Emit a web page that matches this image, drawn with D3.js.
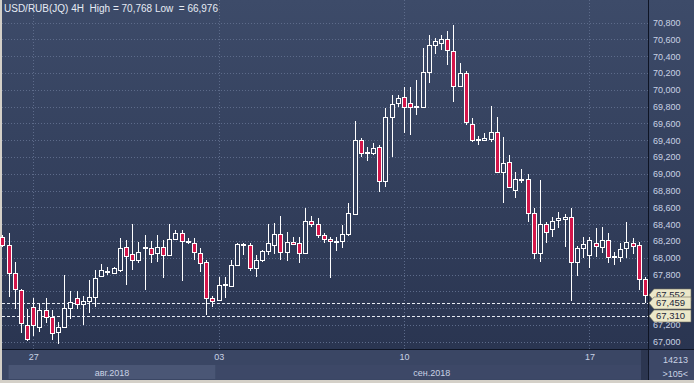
<!DOCTYPE html>
<html><head><meta charset="utf-8">
<script src="https://cdn.jsdelivr.net/npm/d3@7"></script>
<style>
html,body{margin:0;padding:0;background:#d4d0c8;}
svg{display:block;font-family:"Liberation Sans",Arial,sans-serif;}
</style></head><body>
<script>
// 4H candles, 24 Aug - 18 Sep 2018
const openP = [68.245,68.154,67.817,67.618,67.201,67.419,67.181,67.380,67.293,67.118,
  67.174,67.400,67.526,67.451,67.479,67.531,67.785,67.826,67.817,67.856,
  68.126,68.043,67.975,68.114,68.114,68.055,68.133,68.035,68.221,68.293,
  68.186,68.181,68.062,67.951,67.519,67.499,67.671,67.665,67.915,68.157,
  68.154,67.883,67.975,68.082,68.154,68.285,68.067,68.186,68.174,68.055,
  68.443,68.400,68.269,68.219,68.195,68.195,68.281,68.523,69.404,69.251,
  69.252,69.317,68.910,69.674,69.840,69.912,69.840,69.796,69.800,70.210,
  70.535,70.562,70.602,70.467,70.050,70.198,69.594,69.406,69.404,69.412,
  69.495,69.026,69.138,68.808,68.936,68.936,68.531,68.055,68.400,68.340,
  68.451,68.467,68.483,67.955,68.114,68.035,68.174,68.133,68.213,68.014,
  68.007,68.114,68.181,68.148,67.743];
const highP = [68.273,68.300,67.955,67.626,67.388,67.519,67.451,67.519,67.380,67.240,
  67.793,67.606,67.598,67.546,67.737,67.856,67.924,67.888,67.895,68.233,
  68.213,68.404,68.193,68.273,68.205,68.273,68.213,68.404,68.332,68.332,
  68.233,68.233,68.114,67.975,67.546,67.776,67.773,67.975,68.174,68.181,
  68.174,68.035,68.094,68.404,68.412,68.499,68.312,68.245,68.252,68.590,
  68.499,68.471,68.293,68.252,68.252,68.392,68.650,69.630,69.424,69.317,
  69.371,69.344,69.781,69.939,69.939,70.038,70.038,70.118,70.495,70.654,
  70.614,70.654,70.700,70.768,70.317,70.229,69.665,69.448,69.483,69.808,
  69.674,69.436,69.225,69.026,69.055,68.999,68.590,68.927,68.431,68.483,
  68.543,68.523,68.590,68.142,68.252,68.245,68.352,68.364,68.293,68.074,
  68.174,68.431,68.233,68.193,67.776];
const lowP = [68.130,67.531,67.392,67.102,67.005,67.062,67.121,67.221,67.023,66.976,
  67.162,67.269,67.388,67.201,67.340,67.412,67.775,67.793,67.808,67.836,
  67.677,67.856,67.936,67.610,67.943,67.955,67.757,68.023,68.213,67.729,
  68.165,67.975,67.836,67.320,67.412,67.479,67.523,67.650,67.904,68.035,
  67.844,67.776,67.955,68.035,68.043,67.975,67.963,68.154,67.936,68.046,
  68.371,68.233,68.181,67.757,68.082,68.114,68.261,68.511,69.205,69.157,
  69.221,68.788,68.838,69.205,69.793,69.483,69.463,69.701,69.793,70.079,
  70.427,70.475,70.296,69.860,70.031,69.582,69.383,69.338,69.395,69.383,
  69.007,68.650,68.829,68.710,68.895,68.431,67.983,67.955,68.174,68.245,
  68.352,68.133,67.479,67.785,67.995,67.876,68.014,68.055,67.943,67.915,
  67.955,67.995,68.046,67.612,67.460];
const closeP = [68.154,67.817,67.626,67.221,67.031,67.201,67.380,67.293,67.102,67.174,
  67.400,67.471,67.451,67.490,67.531,67.764,67.856,67.838,67.876,68.114,
  68.026,67.975,68.074,68.133,68.046,68.133,68.035,68.221,68.293,68.205,
  68.201,68.074,67.936,67.519,67.479,67.677,67.689,67.915,68.162,68.165,
  67.883,67.975,68.082,68.181,68.285,68.067,68.186,68.162,68.055,68.443,
  68.404,68.273,68.221,68.198,68.201,68.281,68.531,69.404,69.245,69.257,
  69.305,68.910,69.674,69.829,69.900,69.793,69.793,69.805,70.210,70.535,
  70.586,70.602,70.475,70.050,70.198,69.612,69.404,69.412,69.421,69.495,
  69.026,69.126,68.848,68.939,68.942,68.531,68.055,68.400,68.305,68.439,
  68.479,68.490,67.955,68.114,68.165,68.213,68.138,68.213,68.014,68.019,
  68.106,68.193,68.138,67.743,67.552];

const dayTicks = [5, 35, 65, 95];          // candle index of Monday 00:00
const dayLabels = ["27", "03", "10", "17"];
const monthLabels = ["авг.2018", "сен.2018"];
const monthFrom = [1, 34.5];               // band edges in candle index
const monthTo = [34.5, 104.5];
const levels = [67.459, 67.310];           // dashed lines
const tagValues = [67.552, 67.459, 67.310];
const title = "USD/RUB(JQ) 4H  High = 70,768 Low  = 66,976";

const W = 694, H = 383;
const plotR = 648, plotB = 349, panelB = 380;
const fmt = v => d3.format(".3f")(v).replace(".", ",");

const x = d3.scaleLinear().domain([0, 104]).range([2.4, 645.0]);
const y = d3.scaleLinear().domain([67.0, 70.8]).range([341.7, 22.7]);
const yTicks = d3.range(67.0, 70.801, 0.2);
// axis labels that sit fully under the price tags are not drawn
const yLabels = yTicks.filter(t => !tagValues.some(v => Math.abs(y(t) - y(v)) < 7));

const svg = d3.select("body").append("svg").attr("width", W).attr("height", H);

const defs = svg.append("defs");
const g = defs.append("linearGradient").attr("id", "bg")
  .attr("gradientUnits", "userSpaceOnUse")
  .attr("x1", 0).attr("y1", 0).attr("x2", 0).attr("y2", plotB);
g.append("stop").attr("offset", 0).attr("stop-color", "#3d4b69");
g.append("stop").attr("offset", 1).attr("stop-color", "#2a3551");

// frame + panels
svg.append("rect").attr("width", W).attr("height", H).attr("fill", "#d4d0c8");
svg.append("rect").attr("x", 2).attr("y", 0).attr("width", W - 2).attr("height", plotB).attr("fill", "url(#bg)");
svg.append("rect").attr("x", 2).attr("y", plotB).attr("width", W - 2).attr("height", panelB - plotB).attr("fill", "#3a4664");

// grid
svg.append("g").selectAll("line").data(yTicks).join("line")
  .attr("x1", 2).attr("x2", plotR)
  .attr("y1", d => Math.round(y(d)) + 0.5).attr("y2", d => Math.round(y(d)) + 0.5)
  .attr("stroke", "#5d6b8a").attr("stroke-dasharray", "1,2");
svg.append("g").selectAll("line").data(dayTicks).join("line")
  .attr("x1", d => Math.round(x(d)) + 0.5).attr("x2", d => Math.round(x(d)) + 0.5)
  .attr("y1", 0).attr("y2", plotB)
  .attr("stroke", "#5d6b8a").attr("stroke-dasharray", "1,2");

// dashed price levels
svg.append("g").selectAll("line").data(levels).join("line")
  .attr("x1", 2).attr("x2", plotR)
  .attr("y1", d => Math.round(y(d)) + 0.5).attr("y2", d => Math.round(y(d)) + 0.5)
  .attr("stroke", "#e8ecf4").attr("stroke-dasharray", "3,2");

// candles
const idx = d3.range(openP.length);
const cx = i => Math.round(x(i)) + 0.5;
const candles = svg.append("g");
candles.selectAll("line").data(idx).join("line")
  .attr("x1", cx).attr("x2", cx)
  .attr("y1", i => Math.round(y(highP[i]))).attr("y2", i => Math.round(y(lowP[i])))
  .attr("stroke", "#ffffff");
candles.selectAll("rect").data(idx).join("rect")
  .attr("x", i => cx(i) - 2)
  .attr("width", 4)
  .attr("y", i => Math.round(y(Math.max(openP[i], closeP[i]))) + 0.5)
  .attr("height", i => Math.max(1, Math.round(y(Math.min(openP[i], closeP[i]))) - Math.round(y(Math.max(openP[i], closeP[i])))))
  .attr("fill", i => closeP[i] < openP[i] ? "#d3164a" : "url(#bg)")
  .attr("stroke", "#ffffff");

// right axis panel
svg.append("rect").attr("x", plotR).attr("y", 0).attr("width", W - plotR).attr("height", plotB).attr("fill", "url(#bg)");
svg.append("line").attr("x1", plotR + 0.5).attr("x2", plotR + 0.5).attr("y1", 0).attr("y2", panelB).attr("stroke", "#0e1424");
svg.append("line").attr("x1", 2).attr("x2", W).attr("y1", plotB + 0.5).attr("y2", plotB + 0.5).attr("stroke", "#0e1424");

const yAxis = d3.axisRight(y).tickValues(yLabels).tickFormat(fmt).tickSize(0).tickPadding(5);
svg.append("g").attr("transform", `translate(${plotR},0)`).call(yAxis)
  .call(a => a.select(".domain").remove())
  .call(a => a.selectAll("text").attr("fill", "#c9d2e4").attr("font-size", 9).attr("font-family", "Liberation Sans, Arial"));

// price tags (the first one sits partly under the second, as in the terminal)
const tags = svg.append("g").selectAll("g").data(tagValues).join("g")
  .attr("transform", d => `translate(${plotR + 1},${Math.round(y(d))})`);
tags.append("path").attr("d", "M0,0 L5,-6 L42,-6 L42,6 L5,6 Z")
  .attr("fill", "#ebe7c9").attr("stroke", "#6f6d5c").attr("stroke-width", 0.6);
tags.append("text").attr("x", 7).attr("dy", "0.35em").text(fmt)
  .attr("fill", "#1d2638").attr("font-size", 9.5);

// bottom axis: month bands and day labels
const bands = svg.append("g");
bands.selectAll("rect").data(monthLabels).join("rect")
  .attr("x", (d, i) => x(monthFrom[i])).attr("width", (d, i) => x(monthTo[i]) - x(monthFrom[i]))
  .attr("y", 365).attr("height", 14)
  .attr("fill", (d, i) => i === 0 ? "#4a5675" : "#3d4867");
bands.selectAll("text").data(monthLabels).join("text")
  .attr("x", (d, i) => (x(monthFrom[i]) + x(monthTo[i])) / 2).attr("y", 375.5)
  .attr("text-anchor", "middle").attr("fill", "#c9d2e4").attr("font-size", 9).text(d => d);

const xAxis = d3.axisBottom(x).tickValues(dayTicks).tickFormat((d, i) => dayLabels[i]).tickSize(0).tickPadding(5);
svg.append("g").attr("transform", `translate(0,${plotB})`).call(xAxis)
  .call(a => a.select(".domain").remove())
  .call(a => a.selectAll("text").attr("fill", "#c9d2e4").attr("font-size", 9).attr("font-family", "Liberation Sans, Arial"));

// corner box
svg.append("rect").attr("x", plotR + 1).attr("y", plotB + 1).attr("width", W - plotR - 1).attr("height", panelB - plotB - 1).attr("fill", "#3d4867");
svg.append("rect").attr("x", plotR - 7).attr("y", plotB + 1).attr("width", 7).attr("height", panelB - plotB - 1).attr("fill", "#2c3650");
svg.append("text").attr("x", 688).attr("y", 363).attr("text-anchor", "end").attr("fill", "#c9d2e4").attr("font-size", 9).text("14213");
svg.append("text").attr("x", 688).attr("y", 377).attr("text-anchor", "end").attr("fill", "#c9d2e4").attr("font-size", 9).text(">105<");

// title
svg.append("text").attr("x", 4).attr("y", 11.5).attr("fill", "#e6ebf4").attr("font-size", 10)
  .attr("xml:space", "preserve").style("white-space", "pre").text(title);
</script>
</body></html>
